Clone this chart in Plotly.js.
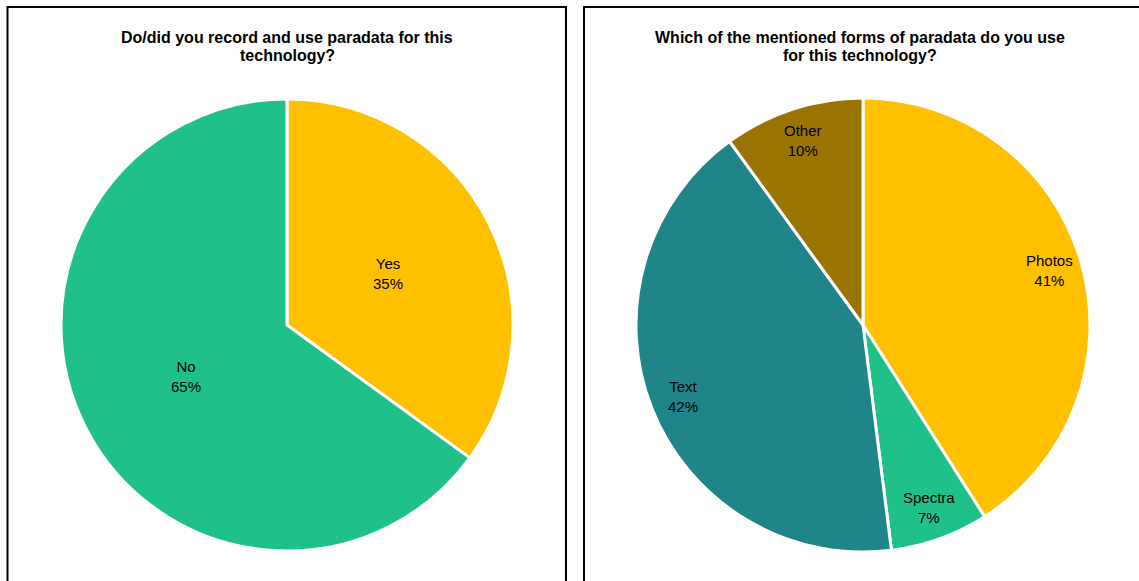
<!DOCTYPE html>
<html>
<head>
<meta charset="utf-8">
<script src="https://cdn.plot.ly/plotly-3.0.1.min.js"></script>
<style>
  html, body { margin: 0; padding: 0; background: #ffffff; }
  #chart { width: 1139px; height: 581px; }
</style>
</head>
<body>
<div id="chart"></div>
<script>
// ---- Data ----
const title1Lines = ["Do/did you record and use paradata for this", "technology?"];
const labels1 = ["Yes", "No"];
const values1 = [35, 65];
const colors1 = ["#FFC000", "#20C08B"];

const title2Lines = ["Which of the mentioned forms of paradata do you use", "for this technology?"];
const labels2 = ["Photos", "Spectra", "Text", "Other"];
const values2 = [41, 7, 42, 10];
const colors2 = ["#FFC000", "#20C08B", "#20858A", "#9A7400"];

// ---- Layout geometry (pixels) ----
const W = 1139, H = 581;
const pie1 = { cx: 287, cy: 325, r: 226, labelFrac: 0.5, titleX: 287 };
const pie2 = { cx: 863, cy: 325, r: 227, labelFrac: 0.855, titleX: 860 };
const titleLineY = [37.5, 55.5];

function domainOf(p) {
  return {
    x: [(p.cx - p.r) / W, (p.cx + p.r) / W],
    y: [1 - (p.cy + p.r) / H, 1 - (p.cy - p.r) / H]
  };
}

function pieTrace(labels, values, colors, p) {
  return {
    type: "pie",
    labels: labels,
    values: values,
    sort: false,
    direction: "clockwise",
    rotation: 0,
    domain: domainOf(p),
    marker: { colors: colors, line: { color: "#ffffff", width: 3 } },
    textinfo: "none",
    hoverinfo: "label+percent",
    showlegend: false
  };
}

function labelAnnotations(labels, values, p) {
  const total = values.reduce((a, b) => a + b, 0);
  let cum = 0;
  return labels.map((lab, i) => {
    const frac = values[i] / total;
    const mid = (cum + frac / 2) * 2 * Math.PI;
    cum += frac;
    const px = p.cx + p.labelFrac * p.r * Math.sin(mid);
    const py = p.cy - p.labelFrac * p.r * Math.cos(mid);
    return {
      xref: "paper", yref: "paper",
      x: px / W, y: 1 - py / H,
      xanchor: "center", yanchor: "middle",
      text: lab + "<br>" + Math.round(frac * 100) + "%",
      showarrow: false,
      font: { family: "Liberation Sans, Arial, sans-serif", size: 15, color: "#000000" }
    };
  });
}

const titleFont = { family: "Liberation Sans, Arial, sans-serif", size: 16, color: "#000000" };

function titleAnnotations(lines, p) {
  return lines.map((ln, i) => ({
    xref: "paper", yref: "paper",
    x: p.titleX / W, y: 1 - titleLineY[i] / H,
    xanchor: "center", yanchor: "middle",
    text: "<b>" + ln + "</b>", showarrow: false, font: titleFont
  }));
}

const annotations = [].concat(
  titleAnnotations(title1Lines, pie1),
  titleAnnotations(title2Lines, pie2),
  labelAnnotations(labels1, values1, pie1),
  labelAnnotations(labels2, values2, pie2)
);

const shapes = [
  { type: "rect", xref: "paper", yref: "paper", x0: 7.5 / W, x1: 566 / W, y0: -0.05, y1: 1 - 7 / H,
    line: { color: "#000000", width: 2 }, fillcolor: "rgba(0,0,0,0)", layer: "below" },
  { type: "rect", xref: "paper", yref: "paper", x0: 584 / W, x1: 1142 / W, y0: -0.05, y1: 1 - 7 / H,
    line: { color: "#000000", width: 2 }, fillcolor: "rgba(0,0,0,0)", layer: "below" }
];

const layout = {
  width: W, height: H, autosize: false,
  margin: { l: 0, r: 0, t: 0, b: 0, pad: 0 },
  paper_bgcolor: "#ffffff",
  plot_bgcolor: "#ffffff",
  showlegend: false,
  annotations: annotations,
  shapes: shapes
};

Plotly.newPlot("chart",
  [pieTrace(labels1, values1, colors1, pie1), pieTrace(labels2, values2, colors2, pie2)],
  layout, { displayModeBar: false, staticPlot: true });
</script>
</body>
</html>
